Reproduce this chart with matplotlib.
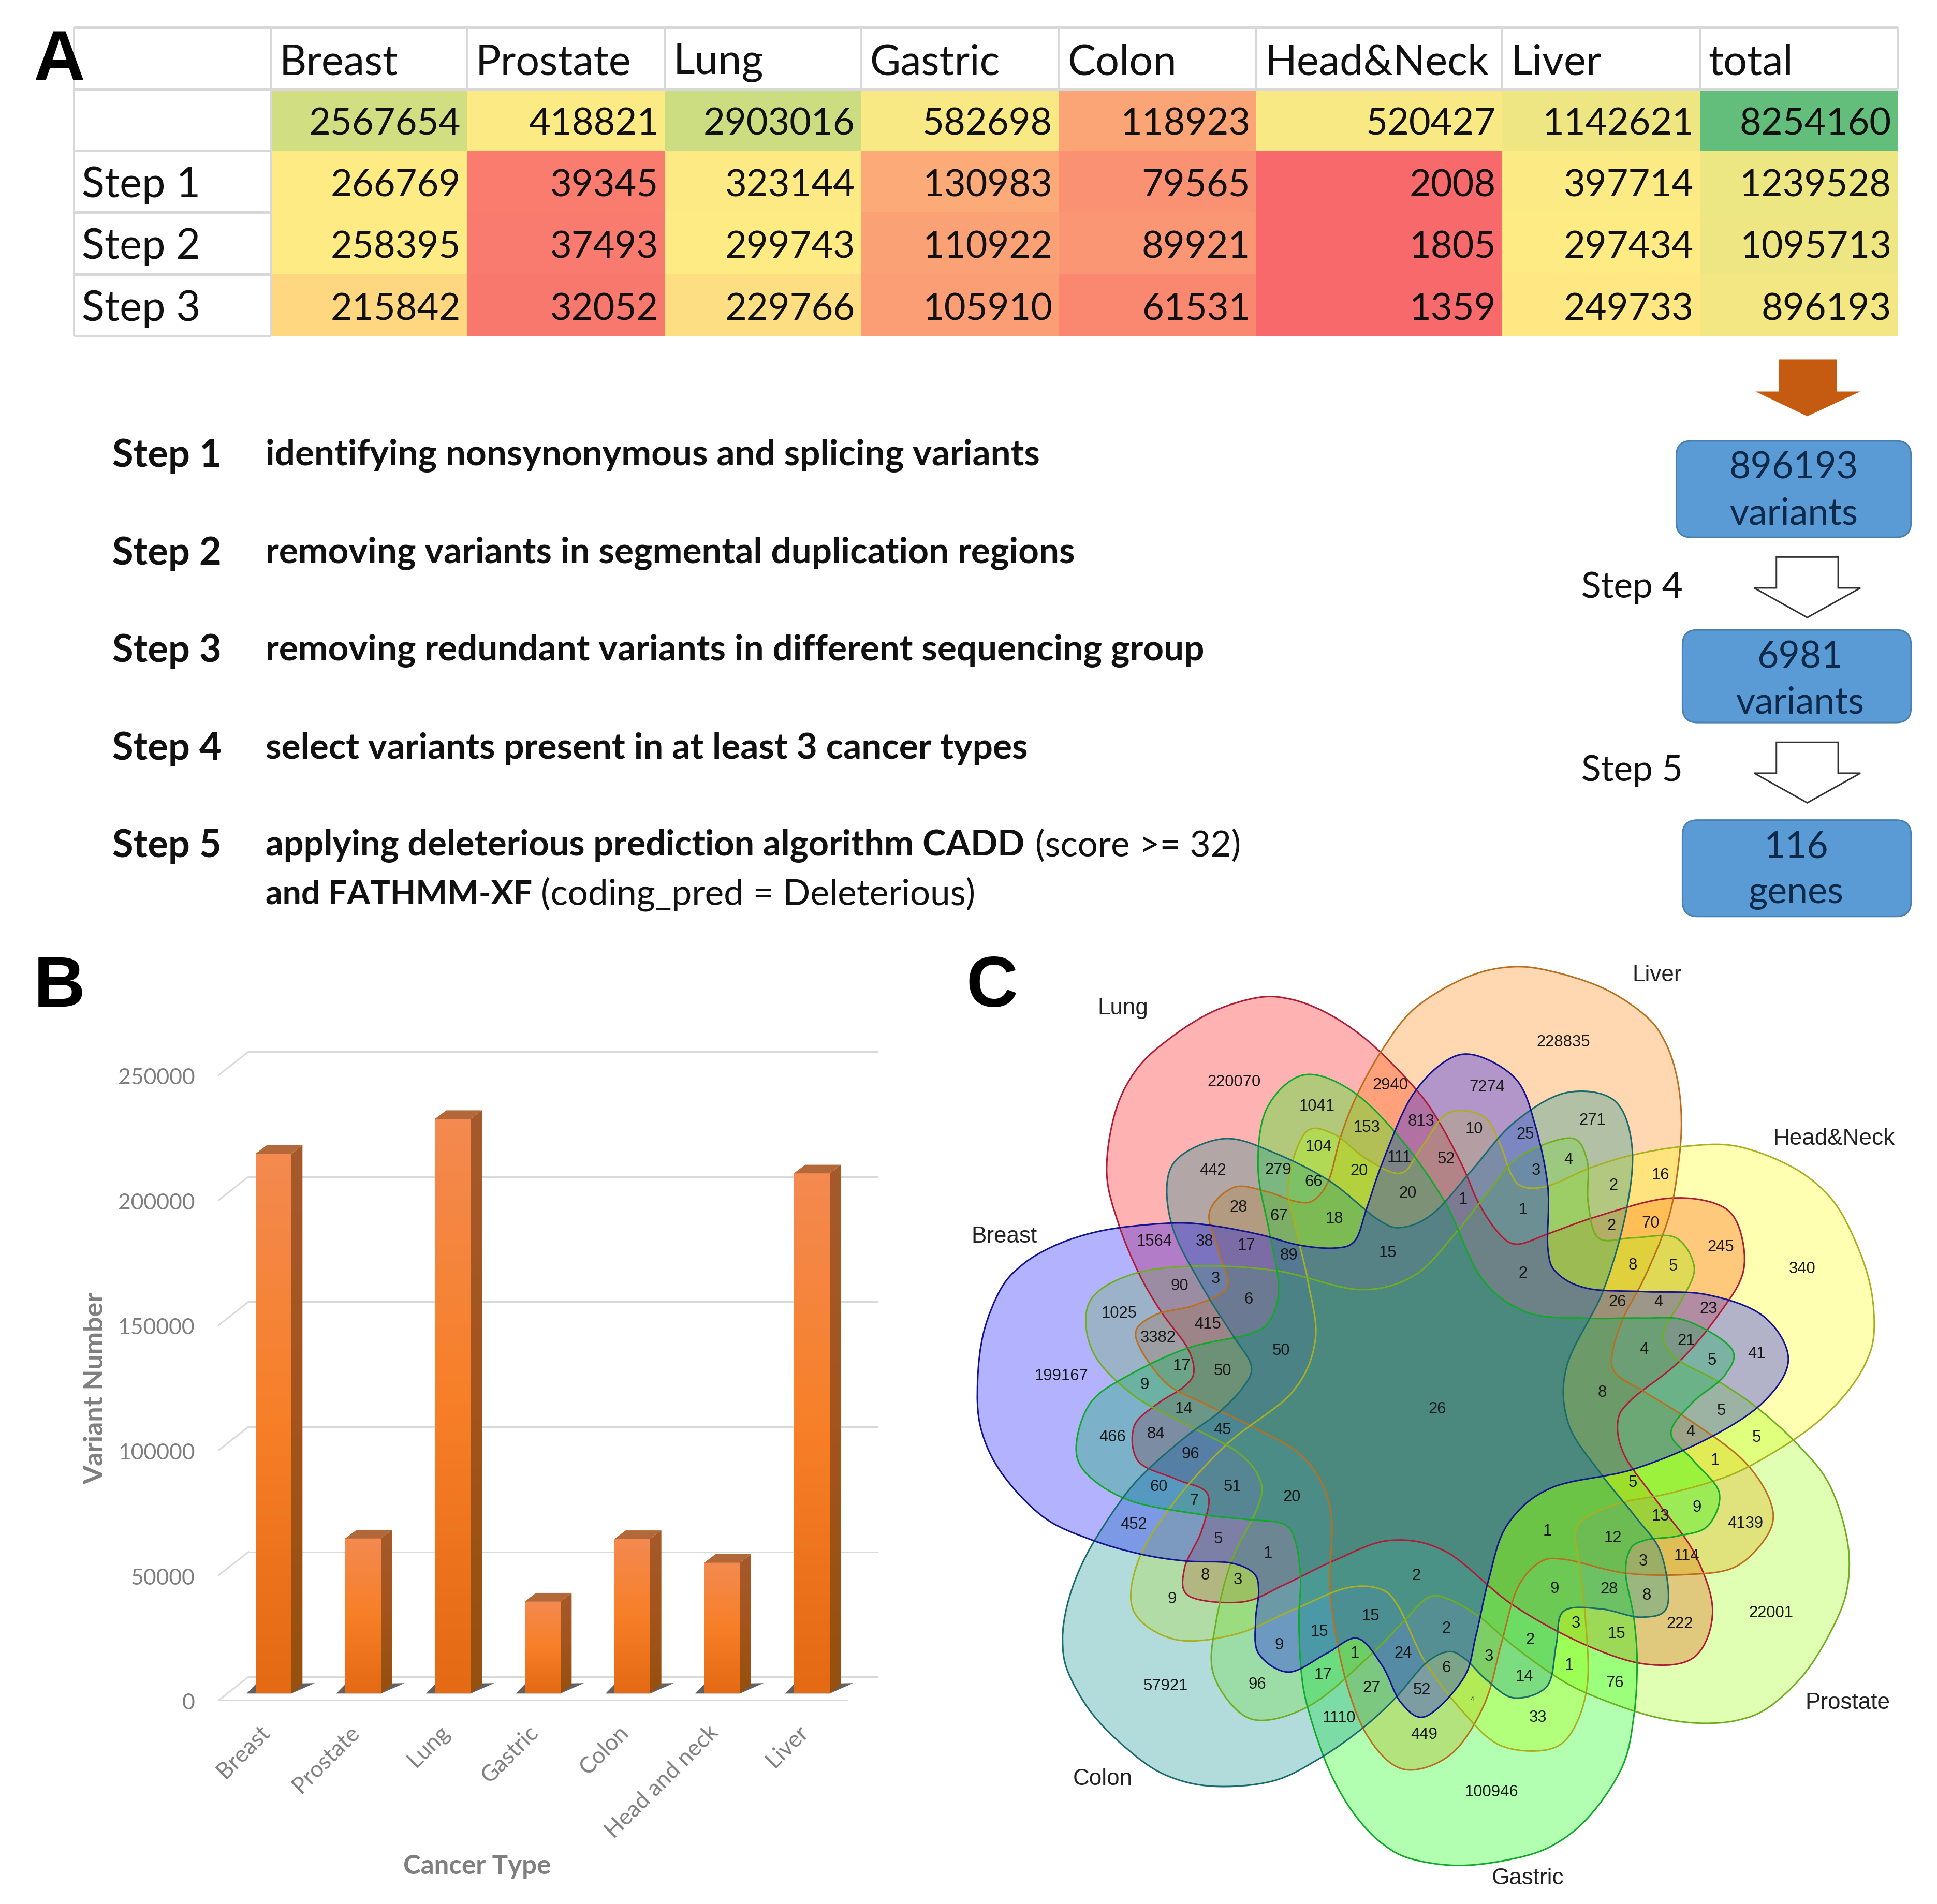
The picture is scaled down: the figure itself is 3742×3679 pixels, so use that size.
import numpy as np
import matplotlib
matplotlib.use("Agg")
import matplotlib.pyplot as plt
from matplotlib.colors import LinearSegmentedColormap, TwoSlopeNorm, to_rgba
from matplotlib.patches import FancyBboxPatch, Polygon, PathPatch
from matplotlib.path import Path
from matplotlib.transforms import Affine2D

W, H = 3742, 3679
DPI = 100
OV = W / 1568.0           # overview px -> image px

# ---------- data ----------
table_cols = ["Breast", "Prostate", "Lung", "Gastric", "Colon", "Head&Neck", "Liver", "total"]
table_rows = ["", "Step 1", "Step 2", "Step 3"]
row_all = [2567654, 418821, 2903016, 582698, 118923, 520427, 1142621, 8254160]
row_step1 = [266769, 39345, 323144, 130983, 79565, 2008, 397714, 1239528]
row_step2 = [258395, 37493, 299743, 110922, 89921, 1805, 297434, 1095713]
row_step3 = [215842, 32052, 229766, 105910, 61531, 1359, 249733, 896193]

bar_categories = ["Breast", "Prostate", "Lung", "Gastric", "Colon", "Head and neck", "Liver"]
bar_values = [215842, 62000, 229766, 36800, 61800, 52300, 208000]
bar_ticks = [0, 50000, 100000, 150000, 200000, 250000]

venn_sets = ["Breast", "Lung", "Liver", "Head&Neck", "Prostate", "Gastric", "Colon"]
venn_fill = ["#0000ff", "#ff0000", "#ff8000", "#ffff00", "#99ff00", "#00ff00", "#008b8b"]
venn_edge = ["#14148f", "#b01c38", "#b8701e", "#a8b020", "#6fae20", "#12a82a", "#1c6b6b"]
venn_draw_order = ["Lung", "Liver", "Head&Neck", "Prostate", "Gastric", "Colon", "Breast"]
venn_set_labels = [("Liver", 1120, 54), ("Lung", 265, 108), ("Head&Neck", 1403, 321), ("Breast", 75, 480),
                   ("Prostate", 1425, 1240), ("Colon", 232, 1364), ("Gastric", 913, 1526)]
venn_counts = [
    ("220070", 443, 229), ("1041", 575, 268), ("2940", 693, 234), ("7274", 848, 237), ("228835", 970, 164),
    ("153", 655, 303), ("813", 742, 293), ("10", 827, 305), ("25", 909, 314), ("271", 1016, 291),
    ("104", 578, 334), ("111", 707, 352), ("52", 782, 354), ("4", 978, 355), ("442", 409, 373),
    ("279", 513, 372), ("66", 570, 391), ("20", 643, 374), ("3", 926, 373), ("2", 1050, 397), ("16", 1125, 380),
    ("20", 721, 410), ("1", 809, 420), ("1", 905, 437), ("28", 450, 433), ("67", 514, 447), ("18", 603, 451),
    ("2", 1047, 463), ("70", 1109, 459), ("245", 1222, 498), ("1564", 315, 488), ("38", 395, 488), ("17", 462, 495),
    ("89", 530, 511), ("15", 689, 507), ("8", 1081, 527), ("5", 1146, 529), ("340", 1352, 533), ("2", 905, 541),
    ("3", 413, 549), ("90", 355, 561), ("6", 466, 583), ("26", 1056, 587), ("4", 1122, 587), ("23", 1202, 598),
    ("1025", 259, 606), ("415", 400, 623), ("3382", 321, 645), ("21", 1167, 650), ("41", 1279, 671), ("4", 1099, 665),
    ("5", 1208, 682), ("50", 518, 666), ("17", 359, 692), ("50", 424, 699), ("199167", 166, 708), ("9", 299, 722),
    ("8", 1032, 735), ("26", 768, 762), ("14", 362, 762), ("5", 1223, 764), ("4", 1173, 799), ("5", 1279, 808),
    ("466", 248, 807), ("84", 317, 802), ("45", 424, 795), ("96", 373, 835), ("1", 1213, 845), ("60", 322, 888),
    ("51", 440, 888), ("5", 1081, 881), ("7", 379, 911), ("20", 535, 905), ("9", 1184, 922), ("13", 1125, 936),
    ("4139", 1261, 948), ("452", 282, 950), ("1", 944, 961), ("12", 1049, 972), ("5", 417, 973), ("1", 497, 997),
    ("114", 1167, 1001), ("3", 1098, 1010), ("8", 396, 1032), ("3", 449, 1040), ("2", 734, 1033), ("28", 1043, 1055),
    ("9", 956, 1054), ("8", 1103, 1065), ("9", 343, 1071), ("22001", 1302, 1094), ("15", 661, 1099), ("222", 1156, 1112),
    ("3", 990, 1111), ("2", 782, 1119), ("15", 579, 1124), ("15", 1055, 1128), ("2", 917, 1138), ("9", 515, 1146),
    ("1", 636, 1160), ("24", 713, 1160), ("3", 851, 1165), ("6", 782, 1183), ("1", 979, 1179), ("17", 585, 1195),
    ("14", 907, 1198), ("76", 1052, 1208), ("96", 480, 1210), ("57921", 333, 1213), ("27", 663, 1216), ("52", 743, 1220),
    ("1110", 611, 1265), ("33", 929, 1264), ("449", 747, 1292), ("100946", 855, 1386),
]
# Outline of the Breast set in the Venn panel; the other six sets are rotated copies of it.
petal_outline = [(32, 715), (42, 635), (70, 564), (105, 525), (151, 497), (205, 477), (265, 465), (351, 458), (412, 463),
                 (484, 477), (546, 494), (603, 499), (636, 487), (655, 434),
                 (680, 360), (725, 255), (780, 195), (830, 185), (895, 225), (925, 300), (945, 400), (945, 500),
                 (960, 540), (1010, 565), (1100, 570), (1200, 575), (1290, 610), (1330, 680), (1290, 750),
                 (1200, 810), (1080, 860), (950, 890), (880, 950), (850, 1040), (830, 1130), (810, 1200),
                 (750, 1262), (710, 1240), (680, 1180), (640, 1135), (590, 1160), (530, 1190), (482, 1160),
                 (477, 1107), (482, 1058), (474, 1029), (436, 1012), (365, 1009), (294, 998), (213, 974), (137, 937),
                 (70, 865), (37, 792)]
VENN_CENTER = (760, 764)

step_labels = ["Step 1", "Step 2", "Step 3", "Step 4", "Step 5"]
step_text = ["identifying nonsynonymous and splicing variants",
             "removing variants in segmental duplication regions",
             "removing redundant variants in different sequencing group",
             "select variants present in at least 3 cancer types",
             "applying deleterious prediction algorithm CADD"]
flow_boxes = ["896193\nvariants", "6981\nvariants", "116\ngenes"]

# ---------- helpers ----------
fig = plt.figure(figsize=(W / DPI, H / DPI), dpi=DPI, facecolor="white")
def pt(px):   # size given in image px -> points
    return px * 72.0 / DPI
def axes_px(x0, y0, x1, y1):
    return fig.add_axes([x0 / W, 1 - y1 / H, (x1 - x0) / W, (y1 - y0) / H])

page = axes_px(0, 0, W, H)
page.set_xlim(0, 1568); page.set_ylim(H / OV, 0); page.axis("off")
LATO = "Lato"
ARIAL = "Liberation Sans"

# ---------- panel A table ----------
col_edges = np.array([60, 219, 378, 538, 697, 857, 1017, 1216, 1376, 1536])
row_edges = np.array([22, 72, 122, 172, 222, 272])
tbl = axes_px(0, 0, W, H); tbl.set_xlim(0, 1568); tbl.set_ylim(H / OV, 0); tbl.axis("off")
vals = np.array([row_all, row_step1, row_step2, row_step3], dtype=float)
cmap = LinearSegmentedColormap.from_list("xl", ["#F8696B", "#FFEB84", "#63BE7B"])
norm = TwoSlopeNorm(vmin=vals.min(), vcenter=np.percentile(vals, 50), vmax=vals.max())
tbl.pcolormesh(col_edges[1:], row_edges[1:], vals, cmap=cmap, norm=norm, zorder=1)
GRID = "#d8d8d8"
tbl.hlines(row_edges[0:2], col_edges[0], col_edges[-1], color=GRID, lw=pt(5), zorder=2)
tbl.hlines(row_edges[1:], col_edges[0], col_edges[1], color=GRID, lw=pt(5), zorder=2)
tbl.vlines(col_edges, row_edges[0], row_edges[1], color=GRID, lw=pt(4), zorder=2)
tbl.vlines(col_edges[:2], row_edges[1], row_edges[-1], color=GRID, lw=pt(4), zorder=2)
HFS = pt(34 * OV)
NFS = pt(30.3 * OV)
for j, c in enumerate(table_cols):
    tbl.text(col_edges[j + 1] + 7, 51, c, family=LATO, fontsize=HFS, ha="left", va="center", color="#111111", zorder=3)
for i, r in enumerate(table_rows):
    tbl.text(66, (row_edges[i + 1] + row_edges[i + 2]) / 2 + 3, r, family=LATO, fontsize=HFS, ha="left", va="center", color="#111111", zorder=3)
    for j in range(vals.shape[1]):
        tbl.text(col_edges[j + 2] - 5, (row_edges[i + 1] + row_edges[i + 2]) / 2 + 3.5, str(int(vals[i, j])),
                 family=LATO, fontsize=NFS, ha="right", va="center", color="#111111", zorder=3)

for lbl, x, y in [("A", 48, 50), ("B", 48, 800), ("C", 803, 800)]:
    page.text(x, y, lbl, family=ARIAL, weight="bold", fontsize=pt(58 * OV), ha="center", va="center", color="black", zorder=9)
page.set_zorder(5); page.patch.set_alpha(0)

# ---------- steps ----------
SFS = pt(29 * OV)
for lbl, txt, y in zip(step_labels, step_text, [369, 448, 527, 606, 685]):
    page.text(91, y, lbl, family=LATO, weight="bold", fontsize=pt(31 * OV), ha="left", va="center", color="#111111")
    page.text(215, y, txt, family=LATO, weight="bold", fontsize=SFS * (0.99 if "CADD" in txt else 1), ha="left", va="center", color="#111111")
page.text(838, 685, "(score >= 32)", family=LATO, fontsize=SFS, ha="left", va="center", color="#111111")
page.text(215, 724, "and FATHMM-XF", family=LATO, weight="bold", fontsize=SFS * 0.93, ha="left", va="center", color="#111111")
page.text(438, 724, "(coding_pred = Deleterious)", family=LATO, fontsize=SFS, ha="left", va="center", color="#111111")

# ---------- flow ----------
page.add_patch(Polygon([(1440, 291), (1487, 291), (1487, 317), (1506, 317), (1463, 337), (1421, 317), (1440, 317)],
                       closed=True, fc="#C55A11", ec="none"))
for (x0, y0, x1, y1), t, cx in zip([(1357, 357, 1547, 435), (1362, 510, 1547, 585), (1362, 664, 1547, 742)], flow_boxes, [1452, 1457, 1454]):
    page.add_patch(FancyBboxPatch((x0 + 10, y0 + 10), x1 - x0 - 20, y1 - y0 - 20, boxstyle="round,pad=10,rounding_size=12",
                                  fc="#5B9BD5", ec="#4A80B0", lw=pt(3)))
    l1, l2 = t.split("\n")
    page.text(cx, y0 + 22, l1, family=LATO, fontsize=pt(30 * OV), ha="center", va="center", color="#0D2A4A")
    page.text(cx, y0 + 59, l2, family=LATO, fontsize=pt(30 * OV), ha="center", va="center", color="#0D2A4A")
for y in [451, 601]:
    page.add_patch(Polygon([(1438, y), (1488, y), (1488, y + 25), (1506, y + 25), (1463, y + 49), (1420, y + 25), (1438, y + 25)],
                           closed=True, fc="white", ec="#333333", lw=pt(3)))
page.text(1321, 476, "Step 4", family=LATO, fontsize=SFS, ha="center", va="center", color="#111111")
page.text(1321, 624, "Step 5", family=LATO, fontsize=SFS, ha="center", va="center", color="#111111")

# ---------- panel B bars ----------
ZX3, ZY3 = 1800.0 / 1568.0, 1859.0 / 1568.0   # zoomed px -> image px
Y0_Z, PER = 1225.0, 203.8 / 50000.0
left_z, right_z, top_z, bot_z = 368.0, 1476.0, 179.0, 1236.0
axb = axes_px(left_z * ZX3, 1820 + top_z * ZY3, right_z * ZX3, 1820 + bot_z * ZY3)
axb.patch.set_alpha(0)
x_of = lambda z: (z - 460.0) / 151.0
y_of = lambda z: (Y0_Z - z) / PER
axb.set_xlim(x_of(left_z), x_of(right_z)); axb.set_ylim(y_of(bot_z), y_of(top_z))
for s in axb.spines.values():
    s.set_visible(False)
dx, dy = 19.0 / 151.0, 14.0 / PER
backx = x_of(418); frontx = x_of(368)
back_off = y_of(1198); front_off = y_of(1236)
gridc = "#d9d9d9"
for v in bar_ticks:
    axb.plot([frontx, backx], [v + front_off, v + back_off], color=gridc, lw=pt(3), zorder=1, clip_on=False)
    axb.plot([backx, x_of(right_z)], [v + back_off, v + back_off], color=gridc, lw=pt(3), zorder=1, clip_on=False)
axb.plot([frontx, x_of(1425)], [front_off, front_off], color=gridc, lw=pt(3), zorder=1, clip_on=False)
xs = np.arange(len(bar_values))
bw = 60.0 / 151.0
axb.bar(xs, bar_values, width=bw, color="#F47E2A", zorder=3)
grad = LinearSegmentedColormap.from_list("g", ["#F48A50", "#F77F27", "#E46A14"])
grad_side = LinearSegmentedColormap.from_list("s", ["#A65A2C", "#A4541C", "#96500F"])
for x, v in zip(xs, bar_values):
    sx = 15.0 / 151.0
    axb.add_patch(Polygon([(x - bw / 2 - sx, 0), (x + bw / 2, 0), (x + bw / 2 + dx * 2.1, 17.0 / PER), (x - bw / 2, 15.0 / PER)],
                          closed=True, fc="#3a3a3a", ec="none", alpha=0.8, zorder=2))
    axb.imshow(np.linspace(0, 1, 64)[:, None], extent=(x - bw / 2, x + bw / 2, 0, v), cmap=grad, aspect="auto", zorder=3.1)
    side = axb.imshow(np.linspace(0, 1, 64)[:, None], extent=(x + bw / 2, x + bw / 2 + dx, 0, v + dy), cmap=grad_side, aspect="auto", zorder=2.9)
    side.set_clip_path(Polygon([(x + bw / 2, 0), (x + bw / 2 + dx, dy), (x + bw / 2 + dx, v + dy), (x + bw / 2, v)], transform=axb.transData))
    axb.add_patch(Polygon([(x - bw / 2, v), (x + bw / 2, v), (x + bw / 2 + dx, v + dy), (x - bw / 2 + dx, v + dy)],
                          closed=True, fc="#B3683A", ec="none", zorder=3.2))
axb.set_xlim(x_of(left_z), x_of(right_z)); axb.set_ylim(y_of(bot_z), y_of(top_z))
axb.set_xticks(xs); axb.set_xticklabels([])
axb.set_yticks([]); axb.tick_params(length=0)
for v in bar_ticks:
    axb.text(x_of(328), v + front_off - 1200, str(v), family=LATO, fontsize=pt(42.7), color="#7f7f7f", ha="right", va="center")
for x, c in zip(xs, bar_categories):
    axb.annotate(c, (x, 0), xytext=(-12 * ZX3, -(1283 - Y0_Z) * ZY3), textcoords="offset pixels", rotation=45,
                 rotation_mode="anchor", ha="right", va="center", family=LATO, fontsize=pt(44), color="#7f7f7f")
axb.text(x_of(161), y_of(727), "Variant Number", rotation=90, family=LATO, weight="bold", fontsize=pt(52),
         color="#7f7f7f", ha="center", va="center")
axb.text(x_of(803), y_of(1507), "Cancer Type", family=LATO, weight="bold", fontsize=pt(51), color="#7f7f7f", ha="center", va="center")

# ---------- panel C venn ----------
ZX2, ZY2 = 1892.0 / 1568.0, 1859.0 / 1568.0
axv = axes_px(1850, 1820, W, H)
axv.set_xlim(0, 1892); axv.set_ylim(1859, 0); axv.axis("off"); axv.patch.set_alpha(0)

def closed_spline(pts):
    p = np.asarray(pts, float)
    n = len(p)
    verts = [p[0]]; codes = [Path.MOVETO]
    for i in range(n):
        p0, p1, p2, p3 = p[(i - 1) % n], p[i], p[(i + 1) % n], p[(i + 2) % n]
        verts += [p1 + (p2 - p0) / 6.0, p2 - (p3 - p1) / 6.0, p2]
        codes += [Path.CURVE4] * 3
    return Path(verts, codes)

outline = closed_spline(np.asarray(petal_outline, float) * [ZX2, ZY2])
cx, cy = VENN_CENTER[0] * ZX2, VENN_CENTER[1] * ZY2
rotations = {name: Affine2D().rotate_deg_around(cx, cy, k * 360.0 / 7.0) + axv.transData for k, name in enumerate(venn_sets)}
for name in venn_draw_order:
    k = venn_sets.index(name)
    axv.add_patch(PathPatch(outline, fc=to_rgba(venn_fill[k], 0.3), ec="none", transform=rotations[name], zorder=2))
for name in venn_draw_order:
    k = venn_sets.index(name)
    axv.add_patch(PathPatch(outline, fc="none", ec=venn_edge[k], lw=pt(3), transform=rotations[name], zorder=3))
VFS = pt(31)
for t, x, y in venn_counts:
    axv.text(x * ZX2, y * ZY2, t, family=ARIAL, fontsize=VFS, color="#1a1a1a", ha="center", va="center", zorder=5)
axv.text(824 * ZX2, 1235 * ZY2, "4", family=ARIAL, fontsize=VFS * 0.4, color="#1a1a1a", ha="center", va="center", zorder=5)
for t, x, y in venn_set_labels:
    axv.text(x * ZX2, y * ZY2, t, family=ARIAL, fontsize=pt(44), color="#222222", ha="center", va="center", zorder=5)

fig.savefig("out.png", dpi=DPI, facecolor="white")
